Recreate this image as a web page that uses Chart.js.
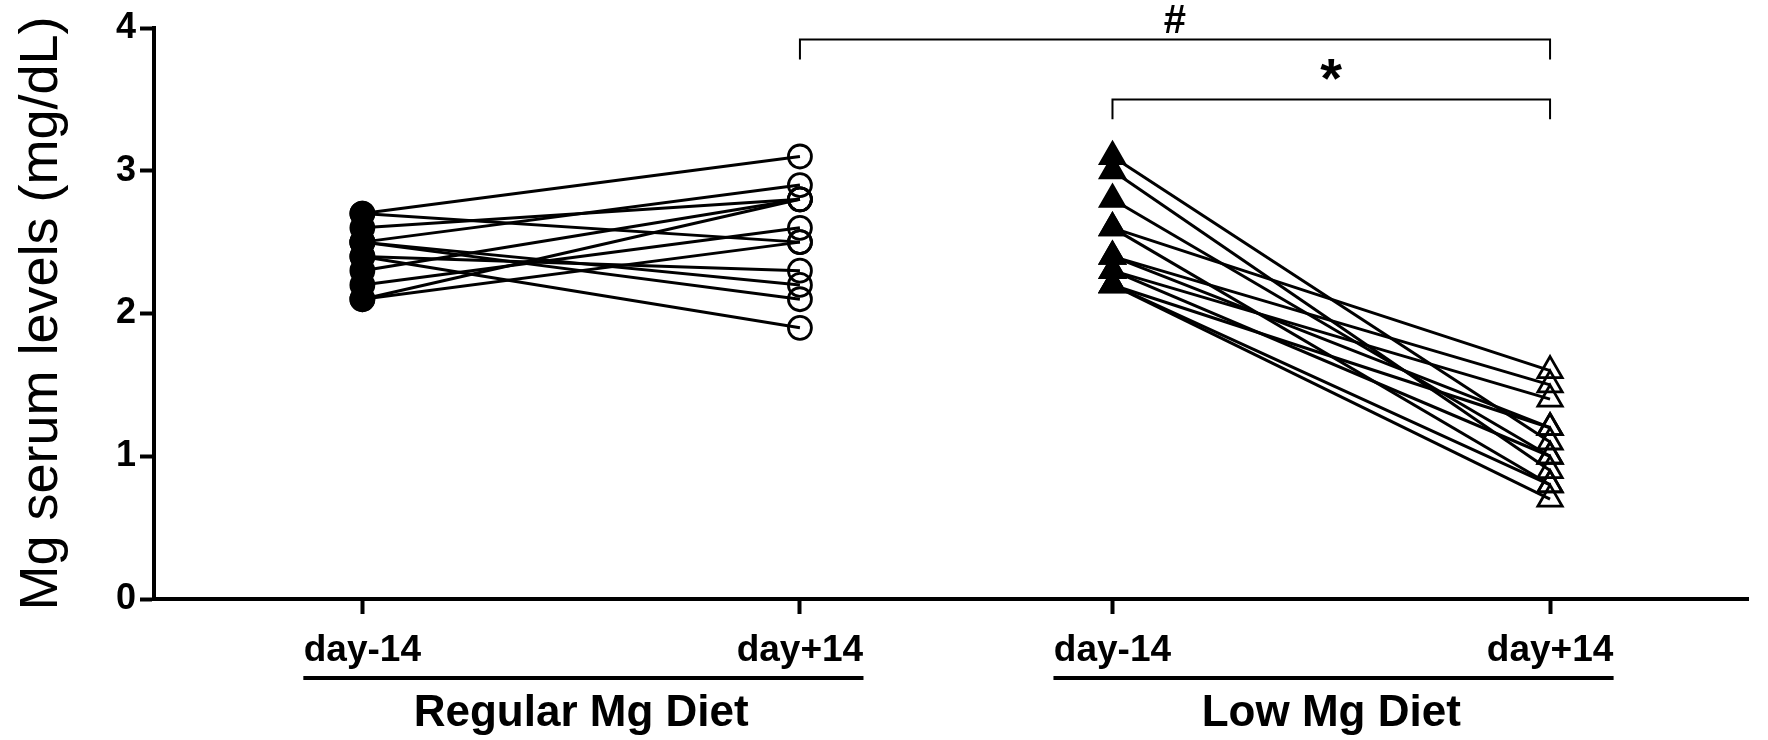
<!DOCTYPE html>
<html>
<head>
<meta charset="utf-8">
<script src="https://cdn.jsdelivr.net/npm/chart.js@4"></script>
<style>
  html, body { margin: 0; padding: 0; background: #fff; }
  #wrap { width: 1768px; height: 740px; }
</style>
</head>
<body>
<div id="wrap"><canvas id="myChart" width="1768" height="740"></canvas></div>
<script>
// x positions of the four time points and their labels
var groupX = [1, 3.1, 4.6, 6.7];
var tickLabels = ['day-14', 'day+14', 'day-14', 'day+14'];
var groupNames = ['Regular Mg Diet', 'Low Mg Diet'];

// one value per animal, before / after
var regularBefore = [2.7, 2.7, 2.6, 2.5, 2.3, 2.1, 2.2, 2.1, 2.4, 2.5, 2.5, 2.4];
var regularAfter  = [3.1, 2.5, 2.8, 2.9, 2.8, 2.8, 2.6, 2.5, 2.3, 2.2, 2.1, 1.9];
var lowBefore = [3.1, 3.0, 2.8, 2.6, 2.6, 2.4, 2.4, 2.3, 2.3, 2.2, 2.2, 2.2];
var lowAfter  = [1.1, 0.9, 1.0, 1.6, 0.8, 1.5, 1.2, 1.4, 1.0, 0.7, 0.8, 1.2];

var yTicks = [0, 1, 2, 3, 4];

var FONT = '"Liberation Sans", Arial, Helvetica, sans-serif';

function pairs(before, after, x0, x1, style, radius) {
  return before.map(function (b, i) {
    return {
      data: [{ x: x0, y: b }, { x: x1, y: after[i] }],
      borderColor: '#000',
      borderWidth: 3,
      pointStyle: style,
      pointRadius: radius,
      pointBorderWidth: 2.8,
      pointBorderColor: '#000',
      pointBackgroundColor: ['#000', 'rgba(0,0,0,0)'],
      tension: 0
    };
  });
}

var datasets = pairs(regularBefore, regularAfter, groupX[0], groupX[1], 'circle', 11.5)
  .concat(pairs(lowBefore, lowAfter, groupX[2], groupX[3], 'triangle', 14));

// brackets, group underlines and group names
var extras = {
  id: 'extras',
  afterDraw: function (chart) {
    var ctx = chart.ctx, xs = chart.scales.x, ys = chart.scales.y;
    ctx.save();
    ctx.strokeStyle = '#000';
    ctx.fillStyle = '#000';

    function bracket(xa, xb, level, drop, label, size, lift) {
      var l = xs.getPixelForValue(xa), r = xs.getPixelForValue(xb);
      var y = ys.getPixelForValue(level), y2 = ys.getPixelForValue(level - drop);
      ctx.lineWidth = 2;
      ctx.beginPath();
      ctx.moveTo(l, y2); ctx.lineTo(l, y); ctx.lineTo(r, y); ctx.lineTo(r, y2);
      ctx.stroke();
      ctx.font = 'bold ' + size + 'px ' + FONT;
      ctx.textAlign = 'center';
      ctx.textBaseline = 'middle';
      ctx.fillText(label, (l + r) / 2, y - lift);
    }
    bracket(groupX[1], groupX[3], 3.92, 0.14, '#', 40, 17);
    bracket(groupX[2], groupX[3], 3.5, 0.14, '*', 56, 18);

    var base = ys.getPixelForValue(0);
    ctx.font = 'bold 36px ' + FONT;
    for (var g = 0; g < 2; g++) {
      var a = xs.getPixelForValue(groupX[g * 2]), b = xs.getPixelForValue(groupX[g * 2 + 1]);
      var wa = ctx.measureText(tickLabels[g * 2]).width, wb = ctx.measureText(tickLabels[g * 2 + 1]).width;
      ctx.lineWidth = 4;
      ctx.beginPath();
      ctx.moveTo(a - wa / 2 - 2, base + 79);
      ctx.lineTo(b + wb / 2 + 2, base + 79);
      ctx.stroke();
    }
    ctx.font = 'bold 44px ' + FONT;
    ctx.textAlign = 'center';
    ctx.textBaseline = 'middle';
    for (var k = 0; k < 2; k++) {
      var c = (xs.getPixelForValue(groupX[k * 2]) + xs.getPixelForValue(groupX[k * 2 + 1])) / 2;
      ctx.fillText(groupNames[k], c, base + 115);
    }
    ctx.restore();
  }
};

var ctx = document.getElementById('myChart');

var chart = new Chart(ctx, {
  type: 'line',
  data: { datasets: datasets },
  plugins: [extras],
  options: {
    responsive: false,
    animation: false,
    devicePixelRatio: 1,
    layout: { padding: { top: 28, right: 20, left: 0, bottom: 0 } },
    plugins: { legend: { display: false }, tooltip: { enabled: false } },
    scales: {
      x: {
        type: 'linear',
        min: 0,
        max: 7.65,
        afterBuildTicks: function (scale) {
          scale.ticks = groupX.map(function (v) { return { value: v }; });
        },
        afterFit: function (scale) { scale.height = 141; },
        border: { display: true, color: '#000', width: 4 },
        grid: { drawOnChartArea: false, drawTicks: true, tickLength: 15, tickWidth: 4, tickColor: '#000' },
        ticks: {
          autoSkip: false,
          maxRotation: 0,
          padding: 15,
          color: '#000',
          font: { family: FONT, size: 37, weight: 'bold' },
          callback: function (v, i) { return tickLabels[i]; }
        }
      },
      y: {
        min: 0,
        max: 4,
        afterBuildTicks: function (scale) {
          scale.ticks = yTicks.map(function (v) { return { value: v }; });
        },
        afterFit: function (scale) { scale.width = 154; },
        border: { display: true, color: '#000', width: 4 },
        grid: { drawOnChartArea: false, drawTicks: true, tickLength: 14, tickWidth: 4, tickColor: '#000' },
        ticks: {
          padding: 4,
          color: '#000',
          font: { family: FONT, size: 36, weight: 'bold' }
        },
        title: {
          display: true,
          text: 'Mg serum levels (mg/dL)',
          color: '#000',
          font: { family: FONT, size: 54, weight: 'normal', lineHeight: 1.2 },
          padding: { top: 10, bottom: 0 }
        }
      }
    }
  }
});
</script>
</body>
</html>
